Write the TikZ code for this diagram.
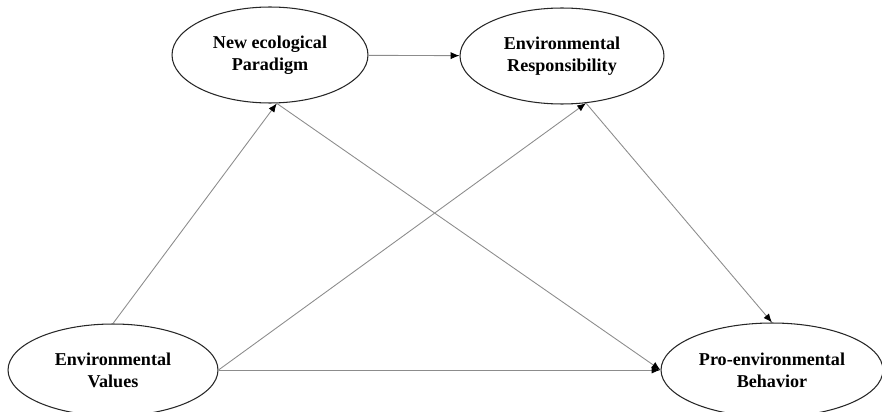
\documentclass[tikz,border=0pt]{standalone}
\usepackage{fontspec}
\setmainfont{Liberation Serif}
\usetikzlibrary{shapes.geometric,arrows.meta}
\begin{document}
\begin{tikzpicture}[x=0.02cm,y=-0.02cm,
        construct/.style={shape=ellipse,draw=black!85,line width=0.6pt,inner sep=0pt,
            align=center,font=\fontsize{10.3}{12.4}\selectfont\bfseries},
        link/.style={color=black!45,line width=0.5pt,-{Latex[color=black,fill=black,length=5pt,width=4pt]}}]
            \useasboundingbox (0,0) rectangle (882,412);
            \node[construct,minimum width=3.92cm,minimum height=1.92cm] (NEP) at (270,55) {New ecological\\Paradigm};
            \node[construct,minimum width=4.08cm,minimum height=1.92cm] (ER) at (562,56) {Environmental\\Responsibility};
            \node[construct,minimum width=4.2cm,minimum height=1.84cm] (EV) at (113,370) {Environmental\\Values};
            \node[construct,minimum width=4.44cm,minimum height=1.88cm] (PEB) at (772,370) {Pro-environmental\\Behavior};

            \path [link] (NEP) edge (ER);
            \path [link] (EV.north) edge (NEP.-82);
            \path [link] (EV.east) edge (ER.-63);
            \path [link] (NEP.-82) edge (PEB.west);
            \path [link] (ER.-63) edge (PEB.north);
            \path [link] (EV.east) edge (PEB.west);
        \end{tikzpicture}
\end{document}
